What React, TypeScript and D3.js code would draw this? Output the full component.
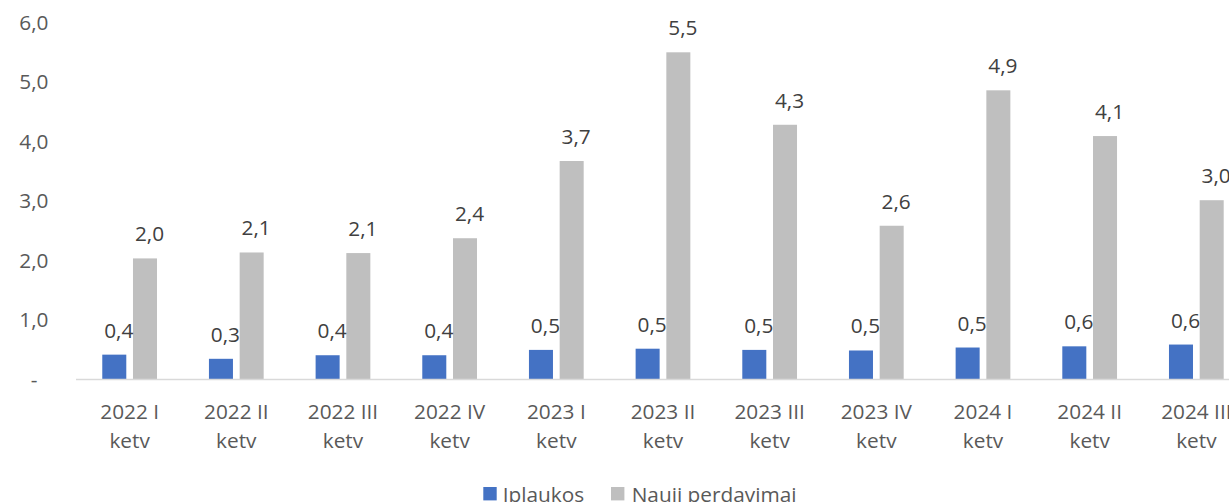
import React from "react";
import * as d3 from "d3";

const categories = [
  ["2022 I", "ketv"],
  ["2022 II", "ketv"],
  ["2022 III", "ketv"],
  ["2022 IV", "ketv"],
  ["2023 I", "ketv"],
  ["2023 II", "ketv"],
  ["2023 III", "ketv"],
  ["2023 IV", "ketv"],
  ["2024 I", "ketv"],
  ["2024 II", "ketv"],
  ["2024 III", "ketv"],
];
const iplaukos = [0.41, 0.34, 0.4, 0.4, 0.49, 0.51, 0.49, 0.48, 0.53, 0.55, 0.58];
const naujiPerdavimai = [2.03, 2.13, 2.12, 2.37, 3.67, 5.5, 4.28, 2.58, 4.86, 4.09, 3.01];
const yTicks = [0, 1, 2, 3, 4, 5, 6];
const seriesNames = ["Įplaukos", "Nauji perdavimai"];
const seriesColors = ["#4472C4", "#BFBFBF"];

const W = 1229;
const H = 502;
const FONT = "'Open Sans', 'Noto Sans', sans-serif";
const FS = 20.8;

export default function App() {
  const keys = categories.map((c) => c.join(" "));
  const x0 = d3
    .scaleBand<string>()
    .domain(keys)
    .range([76.3, 76.3 + 106.67 * keys.length])
    .paddingInner(0.487)
    .paddingOuter(0.2435);
  const x1 = d3
    .scaleBand<number>()
    .domain([0, 1])
    .range([0, x0.bandwidth()])
    .paddingInner(0.218)
    .paddingOuter(0);
  const y = d3.scaleLinear().domain([0, 6]).range([379, 22.6]);
  const fmt = (v: number) => d3.format(".1f")(v).replace(".", ",");
  const series = [iplaukos, naujiPerdavimai];

  return (
    <svg
      width={W}
      height={H}
      style={{ position: "absolute", left: 0, top: 0, background: "#fff" }}
      fontFamily={FONT}
    >
      {/* y tick labels */}
      {yTicks.map((t) => (
        <text
          key={t}
          x={t === 0 ? 37.5 : 48.5}
          y={y(t) + (t === 0 ? 8 : 7.4)}
          textAnchor="end"
          fontSize={FS}
          fill="#595959"
        >
          {t === 0 ? "-" : fmt(t)}
        </text>
      ))}
      {/* bars */}
      {keys.map((k, i) => (
        <g key={k} transform={`translate(${x0(k)},0)`}>
          {series.map((s, si) => (
            <rect
              key={si}
              x={x1(si)}
              y={y(s[i])}
              width={x1.bandwidth()}
              height={y(0) - y(s[i])}
              fill={seriesColors[si]}
            />
          ))}
          {series.map((s, si) => (
            <text
              key={"l" + si}
              x={(x1(si) as number) + x1.bandwidth() / 2 + 4.5}
              y={y(s[i]) - 17}
              textAnchor="middle"
              fontSize={FS}
              fill="#404040"
            >
              {fmt(s[i])}
            </text>
          ))}
        </g>
      ))}
      {/* x axis line */}
      <line x1={76} x2={W} y1={379.5} y2={379.5} stroke="#D9D9D9" strokeWidth={1.5} />
      {/* category labels */}
      {keys.map((k, i) => {
        const cx = (x0(k) as number) + x0.bandwidth() / 2;
        return (
          <text key={k} x={cx} textAnchor="middle" fontSize={FS} fill="#595959">
            <tspan x={cx} y={419}>
              {categories[i][0]}
            </tspan>
            <tspan x={cx} y={448}>
              {categories[i][1]}
            </tspan>
          </text>
        );
      })}
      {/* legend */}
      <rect x={483.3} y={487} width={13.4} height={13.4} fill={seriesColors[0]} />
      <text x={502.7} y={502} fontSize={FS} fill="#595959">
        {seriesNames[0]}
      </text>
      <rect x={611} y={487} width={13.4} height={13.4} fill={seriesColors[1]} />
      <text x={631.7} y={502} fontSize={FS} fill="#595959">
        {seriesNames[1]}
      </text>
    </svg>
  );
}
